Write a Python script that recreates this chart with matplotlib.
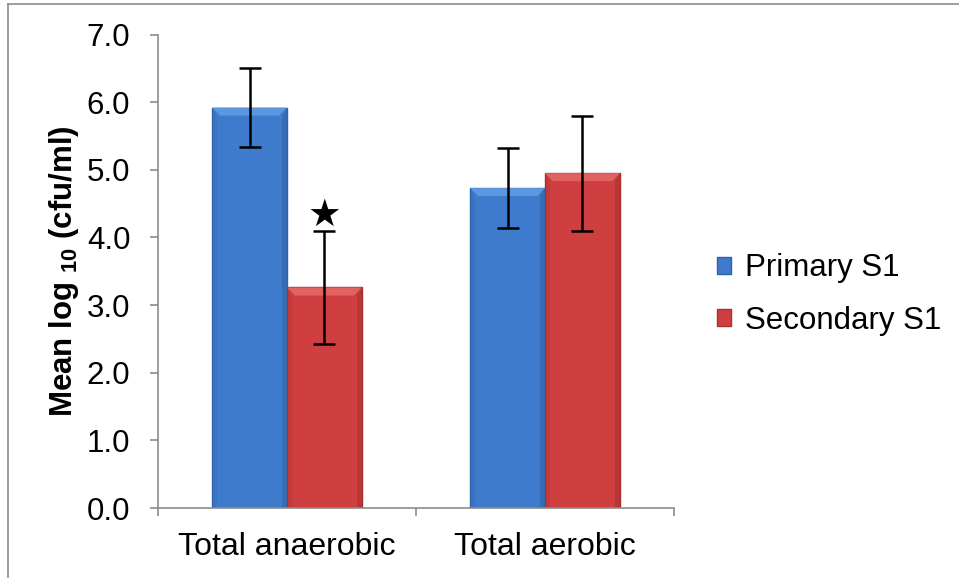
import matplotlib.pyplot as plt
from matplotlib.patches import Patch, Polygon
from matplotlib.lines import Line2D
import numpy as np

plt.rcParams['font.family'] = ['Liberation Sans', 'DejaVu Sans']
plt.rcParams['mathtext.fontset'] = 'custom'
plt.rcParams['mathtext.rm'] = 'Liberation Sans:bold'
plt.rcParams['mathtext.bf'] = 'Liberation Sans:bold'

# data
groups = ["Total anaerobic", "Total aerobic"]
series = ["Primary S1", "Secondary S1"]
primary_mean = [5.92, 4.73]
primary_err = [0.59, 0.59]
secondary_mean = [3.26, 4.95]
secondary_err = [0.84, 0.85]
y_ticks = [0.0, 1.0, 2.0, 3.0, 4.0, 5.0, 6.0, 7.0]

blue = "#3f7bcc"
blue_light = "#5c98e0"
blue_dark = "#2f63a8"
red = "#cf3f3f"
red_light = "#e26262"
red_dark = "#a83030"

fig = plt.figure(figsize=(9.59, 5.78), dpi=100)
ax = fig.add_axes([0.1648, 0.1211, 0.538, 0.8192])
ax.set_xlim(-0.5, 1.5)
ax.set_ylim(0, 7)

x = np.arange(len(groups))
w = 0.29
err_style = dict(elinewidth=1.8, capthick=1.8, ecolor="black", zorder=5)
b1 = ax.bar(x - w / 2, primary_mean, w, color=blue, edgecolor=blue_dark, linewidth=1.0,
            yerr=primary_err, capsize=8, error_kw=err_style, zorder=2)
b2 = ax.bar(x + w / 2, secondary_mean, w, color=red, edgecolor=red_dark, linewidth=1.0,
            yerr=secondary_err, capsize=8, error_kw=err_style, zorder=2)

# bevelled look: light top, darker sides
px_x = 8 / (ax.transData.transform((1, 0))[0] - ax.transData.transform((0, 0))[0])
px_y = 8 / (ax.transData.transform((0, 1))[1] - ax.transData.transform((0, 0))[1])
for bars, light, dark in [(b1, blue_light, blue_dark), (b2, red_light, red_dark)]:
    for r in bars:
        x0, x1 = r.get_x(), r.get_x() + r.get_width()
        y1 = r.get_height()
        ax.add_patch(Polygon([(x0, y1), (x1, y1), (x1 - px_x, y1 - px_y), (x0 + px_x, y1 - px_y)],
                             closed=True, facecolor=light, edgecolor="none", zorder=3))
        ax.add_patch(Polygon([(x1, y1), (x1, 0), (x1 - px_x * 0.6, 0), (x1 - px_x * 0.6, y1 - px_y)],
                             closed=True, facecolor=dark, edgecolor="none", alpha=0.6, zorder=3))
        ax.add_patch(Polygon([(x0, y1), (x0, 0), (x0 + px_x * 0.6, 0), (x0 + px_x * 0.6, y1 - px_y)],
                             closed=True, facecolor=dark, edgecolor="none", alpha=0.3, zorder=3))

# significance marker above the secondary anaerobic bar
ax.text(x[0] + w / 2, secondary_mean[0] + secondary_err[0] + 0.22, "\u2605",
        ha="center", va="center", fontsize=27, family=["DejaVu Sans"], zorder=6)

ax.set_yticks(y_ticks)
ax.set_yticklabels([f"{v:.1f}" for v in y_ticks])
ax.set_xticks([-0.5, 0.5, 1.5])
ax.set_xticklabels([])
ax.set_xticks(x, minor=True)
ax.set_xticklabels(groups, minor=True)
ax.tick_params(axis="x", which="minor", length=0, labelsize=23, pad=17)
ax.tick_params(axis="x", which="major", length=6, width=1.2, color="#8c8c8c")
ax.tick_params(axis="y", length=6, width=1.2, color="#8c8c8c", labelsize=22.5, pad=14)

for side in ["top", "right"]:
    ax.spines[side].set_visible(False)
for side in ["left", "bottom"]:
    ax.spines[side].set_color("#8c8c8c")
    ax.spines[side].set_linewidth(1.2)
    ax.spines[side].set_zorder(4)

ax.set_ylabel(r"Mean log $_{\mathbf{10}}$ (cfu/ml)", fontsize=22.5, fontweight="bold", labelpad=4)

handles = [Patch(facecolor=blue, edgecolor=blue_dark), Patch(facecolor=red, edgecolor=red_dark)]
fig.legend(handles, series, loc="center left", bbox_to_anchor=(0.7475, 0.4905), frameon=False,
           fontsize=22.5, handlelength=0.45, handleheight=0.45, handletextpad=0.45, labelspacing=0.72,
           borderaxespad=0, borderpad=0)

# outer frame
fig.add_artist(Line2D([0.0083, 0.0083], [0, 0.993], transform=fig.transFigure, color="#8c8c8c", lw=1.2))
fig.add_artist(Line2D([0.0083, 1], [0.993, 0.993], transform=fig.transFigure, color="#8c8c8c", lw=1.2))

fig.savefig("out.png", dpi=100)
